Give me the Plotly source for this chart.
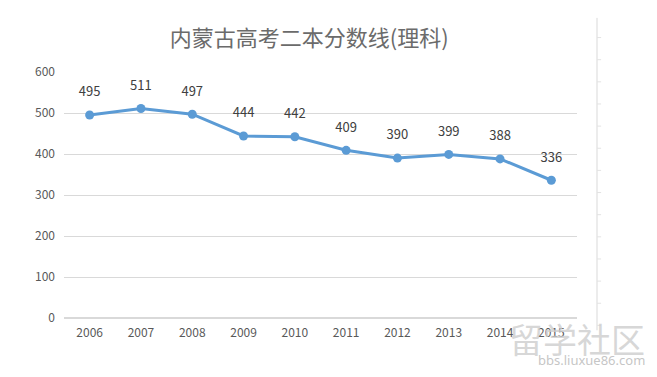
import plotly.graph_objects as go

years = ["2006", "2007", "2008", "2009", "2010", "2011", "2012", "2013", "2014", "2015"]
scores = [495, 511, 497, 444, 442, 409, 390, 399, 388, 336]
y_ticks = [0, 100, 200, 300, 400, 500, 600]

fig = go.Figure()
fig.add_trace(go.Scatter(
    x=years, y=scores, mode="lines+markers",
    line=dict(color="#5B9BD5", width=3),
    marker=dict(color="#5B9BD5", size=9),
    showlegend=False, hoverinfo="skip",
))
# data labels (invisible larger marker pushes the labels up)
fig.add_trace(go.Scatter(
    x=years, y=scores, mode="markers+text",
    text=[str(v) for v in scores], textposition="top center",
    textfont=dict(size=13, color="#404040", family="Noto Sans CJK SC"),
    marker=dict(color="rgba(0,0,0,0)", size=23),
    cliponaxis=False, showlegend=False,
))

fig.update_layout(
    width=641, height=361,
    margin=dict(l=56, r=72, t=64, b=51, autoexpand=False),
    paper_bgcolor="white", plot_bgcolor="white",
    title=dict(text="内蒙古高考二本分数线(理科)", x=0.47, xanchor="center",
               y=0.917, yanchor="middle", automargin=False,
               font=dict(size=22, color="#6b6b6b", family="Noto Sans CJK SC")),
    xaxis=dict(type="category", range=[-0.5, len(years) - 0.5], showgrid=False, showline=False,
               ticks="", automargin=False, ticklabelstandoff=6,
               tickfont=dict(size=12, color="#595959", family="Noto Sans CJK SC")),
    yaxis=dict(range=[0, 600], tickvals=y_ticks, showgrid=True, gridcolor="#D9D9D9",
               gridwidth=1, zeroline=True, zerolinecolor="#D9D9D9", showline=False, ticks="",
               automargin=False, ticklabelstandoff=8,
               tickfont=dict(size=12, color="#595959", family="Noto Sans CJK SC")),
    font=dict(family="Noto Sans CJK SC"),
)

# decorative right frame line with small ticks
fig.add_shape(type="line", xref="paper", yref="paper", x0=1.039, x1=1.039, y0=-0.05, y1=1.22,
              line=dict(color="#D9D9D9", width=1))
for i in range(14):
    yy = -0.03 + i * 0.09
    fig.add_shape(type="line", xref="paper", yref="paper", x0=1.039, x1=1.047, y0=yy, y1=yy,
                  line=dict(color="#E3E3E3", width=1))

# watermark
fig.add_annotation(text="留学社区", xref="paper", yref="paper", x=1.136, y=-0.085, xanchor="right",
                   yanchor="middle", showarrow=False,
                   font=dict(size=34, color="rgba(205,205,205,0.8)", family="Noto Sans CJK SC"))
fig.add_annotation(text="bbs.liuxue86.com", xref="paper", yref="paper", x=1.136, y=-0.17, xanchor="right",
                   yanchor="middle", showarrow=False,
                   font=dict(size=13, color="rgba(190,190,190,0.9)", family="Noto Sans"))

fig.write_html("out.html")
